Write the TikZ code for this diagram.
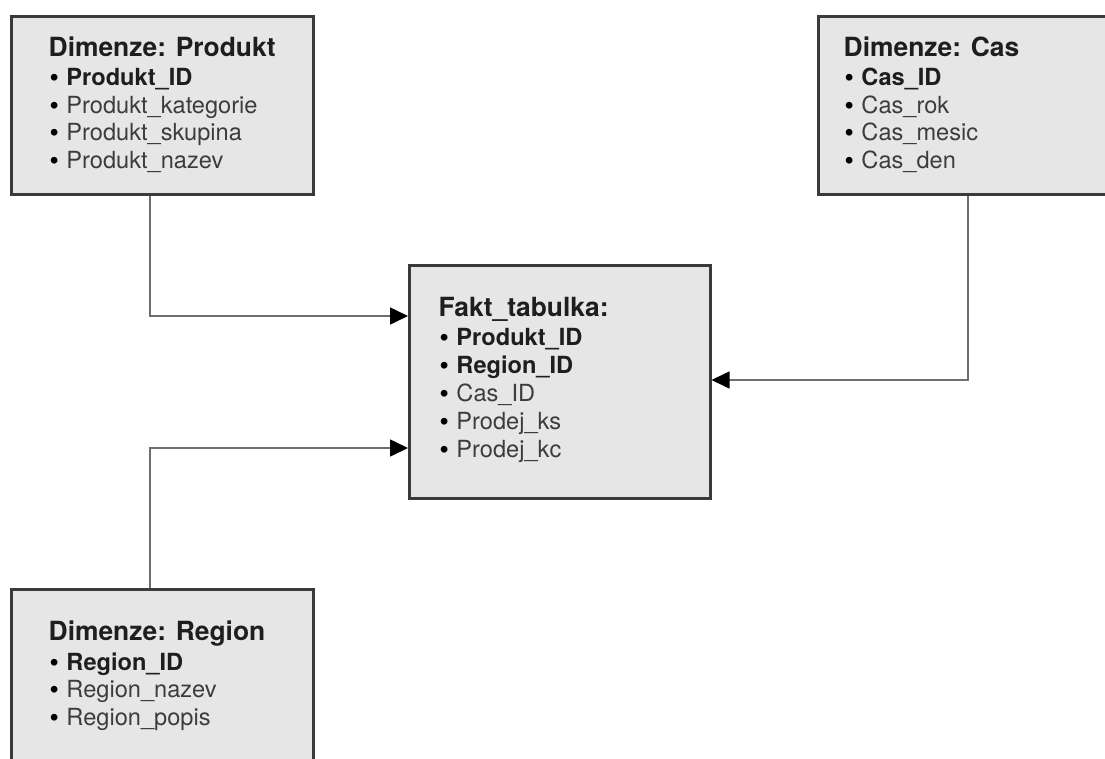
\documentclass[tikz,border=0pt]{standalone}
\usepackage{fontspec}
\setmainfont{TeX Gyre Heros}
\newfontfamily\bulfont{Liberation Sans}
\usetikzlibrary{arrows.meta}
\definecolor{boxfill}{HTML}{E6E6E6}
\definecolor{boxline}{HTML}{3A3A3A}
\definecolor{connline}{HTML}{6E6E6E}
\definecolor{txtdark}{HTML}{1E1E1E}
\definecolor{txtreg}{HTML}{3C3C3C}
\tikzset{
  tbl/.style={draw=boxline, line width=2.5pt, fill=boxfill, anchor=north west, inner sep=0pt},
  conn/.style={draw=connline, line width=1.6pt, -{Triangle[length=18pt,width=17pt,fill=black,color=black]}},
  ttl/.style={font=\fontsize{26.4}{30}\selectfont\bfseries, text=txtdark, inner sep=0pt, anchor=base west},
  itm/.style={font=\fontsize{23.6}{28}\selectfont, text=txtreg, inner sep=0pt, anchor=base west},
}
\newcommand{\bul}{\textcolor{black}{\bulfont\bfseries •}\hspace{0.34em}}
\newcommand{\bk}[1]{\textcolor{txtdark}{\bfseries #1}}
\begin{document}
\begin{tikzpicture}[x=1pt,y=-1pt]
\clip (0,0) rectangle (1105,758);
\fill[white] (0,0) rectangle (1105,758);
% boxes
\node[tbl, minimum width=302pt, minimum height=178pt] (produkt) at (10,15) {};
\node[tbl, minimum width=300pt, minimum height=178pt] (cas) at (817,15) {};
\node[tbl, minimum width=301pt, minimum height=233pt] (fakt) at (408,264) {};
\node[tbl, minimum width=302pt, minimum height=200pt] (region) at (10,588) {};
% connectors
\draw[conn] ([xshift=140pt]produkt.south west) |- ([yshift=-52pt]fakt.north west);
\draw[conn] ([xshift=151pt]cas.south west) |- ([yshift=-116pt]fakt.north east);
\draw[conn] ([xshift=140pt]region.north west) |- ([yshift=-184pt]fakt.north west);
% texts: Produkt
\node[ttl] (pt) at (48.5,56) {Dimenze: Produkt};
\foreach \t [count=\i] in {{\bk{Produkt\_ID}}, Produkt\_kategorie, Produkt\_skupina, Produkt\_nazev}
  \node[itm] (p\i) at (50,{85.5+(\i-1)*27.6}) {\bul\t};
% Cas
\node[ttl] (ct) at (843.5,56) {Dimenze: Cas};
\foreach \t [count=\i] in {{\bk{Cas\_ID}}, Cas\_rok, Cas\_mesic, Cas\_den}
  \node[itm] (c\i) at (845,{85.5+(\i-1)*27.6}) {\bul\t};
% Fakt
\node[ttl] (ft) at (438.5,316) {Fakt\_tabulka:};
\foreach \t [count=\i] in {{\bk{Produkt\_ID}}, {\bk{Region\_ID}}, Cas\_ID, Prodej\_ks, Prodej\_kc}
  \node[itm] (f\i) at (440,{345+(\i-1)*28}) {\bul\t};
% Region
\node[ttl] (rt) at (48.5,640) {Dimenze: Region};
\foreach \t [count=\i] in {{\bk{Region\_ID}}, Region\_nazev, Region\_popis}
  \node[itm] (r\i) at (50,{670+(\i-1)*27.6}) {\bul\t};
\end{tikzpicture}
\end{document}
